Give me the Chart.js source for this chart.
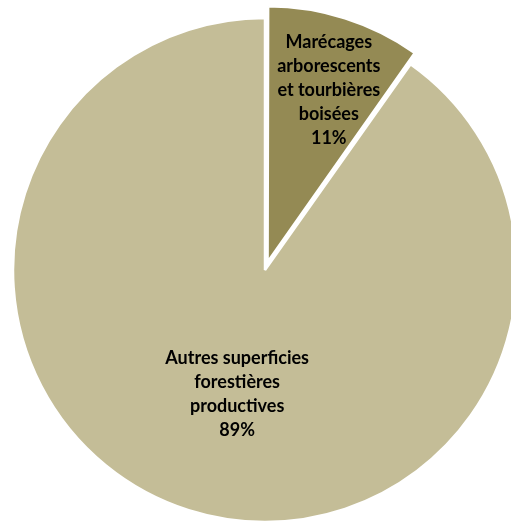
<!DOCTYPE html>
<html lang="fr">
<head>
    <meta charset="UTF-8">
    <title>Superficies forestières</title>
    <script src="https://cdn.jsdelivr.net/npm/chart.js"></script>
    <style>
        body { margin: 0; padding: 0; background: #fff; overflow: hidden; }
        canvas { display: block; }
    </style>
</head>
<body>
    <canvas id="pieCanvas" width="511" height="524"></canvas>
    <script>
        // Catégories (une ligne par élément)
        const categories = [
            ['Marécages', 'arborescents', 'et tourbières', 'boisées'],
            ['Autres superficies', 'forestières', 'productives']
        ];
        // parts mesurées sur l'angle des secteurs, et pourcentages affichés
        const values = [9.8, 90.2];
        const percentLabels = ['11%', '89%'];
        const sliceColors = ['#948A54', '#C4BD97'];
        const sliceOffsets = [34, 0];
        // position du texte : fraction du rayon et petit décalage angulaire (degrés)
        const labelRadius = [0.71, 0.505];
        const labelTurn = [2, -5];

        // déplacement réel appliqué par ArcElement (offset/4 * (1 + fix))
        function arcShift(offset, circ) {
            const fix = 1 - Math.sin(Math.min(Math.PI, circ));
            return offset / 4 * (1 + fix);
        }

        // Étiquettes dessinées dans chaque secteur
        const sliceLabels = {
            id: 'sliceLabels',
            afterDatasetsDraw(chart) {
                const ctx = chart.ctx;
                const meta = chart.getDatasetMeta(0);
                ctx.save();
                ctx.font = 'bold 18px Lato, "Liberation Sans", sans-serif';
                ctx.fillStyle = '#000';
                ctx.textAlign = 'center';
                ctx.textBaseline = 'middle';
                meta.data.forEach((arc, i) => {
                    const p = arc.getProps(['x', 'y', 'startAngle', 'endAngle', 'outerRadius', 'circumference'], true);
                    const mid = (p.startAngle + p.endAngle) / 2;
                    const sh = arcShift(sliceOffsets[i], p.circumference);
                    const a = mid + labelTurn[i] * Math.PI / 180;
                    const r = p.outerRadius * labelRadius[i];
                    const cx = p.x + Math.cos(mid) * sh + Math.cos(a) * r;
                    const cy = p.y + Math.sin(mid) * sh + Math.sin(a) * r;
                    const lines = categories[i].concat([percentLabels[i]]);
                    const lh = 24;
                    lines.forEach((t, k) => {
                        ctx.fillText(t, cx, cy + (k - (lines.length - 1) / 2) * lh);
                    });
                });
                ctx.restore();
            }
        };

        new Chart(document.getElementById('pieCanvas'), {
            type: 'pie',
            data: {
                labels: categories,
                datasets: [{
                    data: values,
                    backgroundColor: sliceColors,
                    borderColor: '#ffffff',
                    borderWidth: 2.5,
                    offset: sliceOffsets,
                    clip: false
                }]
            },
            options: {
                responsive: false,
                animation: false,
                events: [],
                radius: 252,
                layout: { padding: { left: 19, right: 0, top: 16, bottom: 0 } },
                plugins: {
                    legend: { display: false },
                    tooltip: { enabled: false }
                }
            },
            plugins: [sliceLabels]
        });
    </script>
</body>
</html>
